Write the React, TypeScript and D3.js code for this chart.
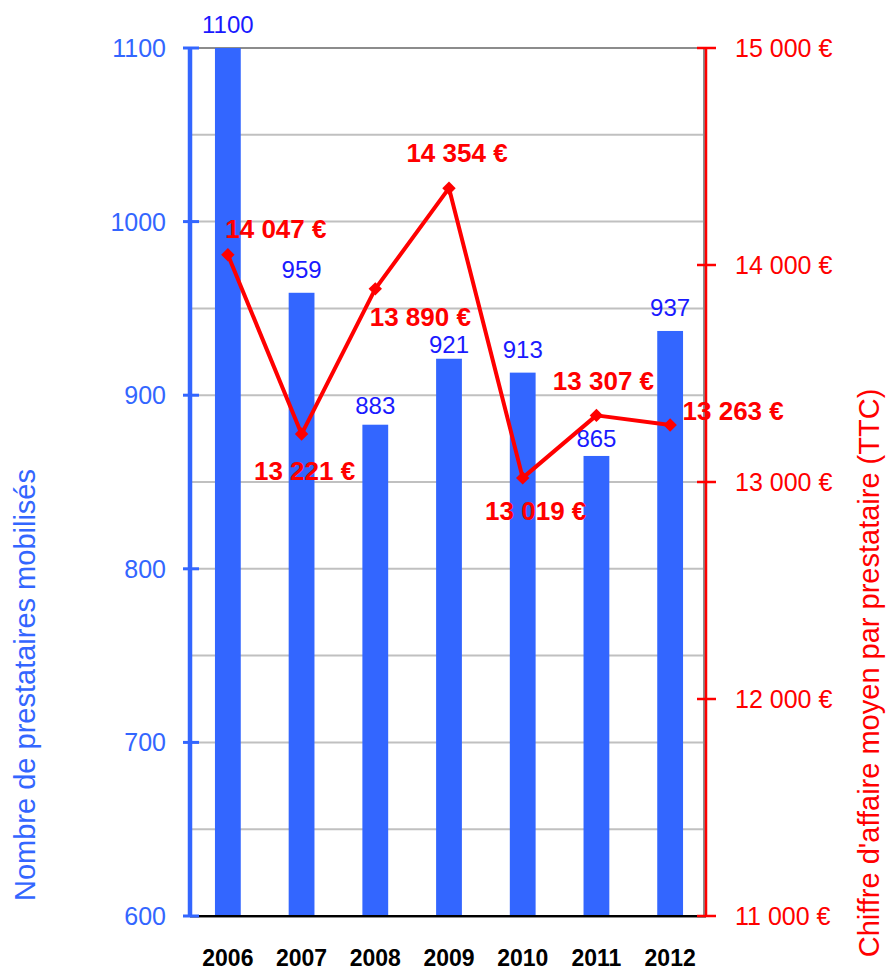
import React from "react";
import * as d3 from "d3";

const years = ["2006", "2007", "2008", "2009", "2010", "2011", "2012"];
const prestataires = [1100, 959, 883, 921, 913, 865, 937];
const chiffre = [14047, 13221, 13890, 14354, 13019, 13307, 13263];
const leftTicks = [600, 700, 800, 900, 1000, 1100];
const rightTicks = [11000, 12000, 13000, 14000, 15000];
const gridValues = [650, 700, 750, 800, 850, 900, 950, 1000, 1050];
const leftTitle = "Nombre de prestataires mobilisés";
const rightTitle = "Chiffre d'affaire moyen par prestataire  (TTC)";

// label placement for the line values (dx, dy relative to the marker)
const lineLabelOffsets = [
  [48, -17],
  [3, 46],
  [45, 37],
  [8, -26],
  [13, 42],
  [7, -25],
  [63, -5],
];
// extra vertical nudge for bar value labels
const barLabelNudge = [0, 0, 4, 9, 0, 6, 0];

const W = 888;
const H = 971;
const BLUE = "#3366ff";
const LABEL_BLUE = "#1a1aff";
const RED = "#ff0000";
const FONT = "'Liberation Sans', Arial, sans-serif";

const fmtEuro = (v: number) => {
  const s = d3.format(",")(v).replace(/,/g, " ");
  return `${s} €`;
};

export default function App() {
  const x = d3
    .scaleBand<string>()
    .domain(years)
    .range([191, 707])
    .paddingInner(0.65)
    .paddingOuter(0.325);
  const yL = d3.scaleLinear().domain([600, 1100]).range([916, 48]);
  const yR = d3.scaleLinear().domain([11000, 15000]).range([916, 48]);
  const xl = 190;
  const xr = 706;

  const line = d3
    .line<number>()
    .x((_, i) => (x(years[i]) as number) + x.bandwidth() / 2)
    .y((d) => yR(d));

  return (
    <div style={{ position: "absolute", left: 0, top: 0 }}>
      <svg width={W} height={H} style={{ display: "block", fontFamily: FONT }}>
        <rect width={W} height={H} fill="#fff" />
        {/* gridlines */}
        {gridValues.map((v) => (
          <line key={v} x1={xl} x2={xr} y1={yL(v)} y2={yL(v)} stroke="#c0c0c0" strokeWidth={2} />
        ))}
        <line x1={xl} x2={xr} y1={yL(1100)} y2={yL(1100)} stroke="#8c8c8c" strokeWidth={2} />
        <line x1={xr - 2} x2={xr - 2} y1={yL(1100)} y2={yL(600)} stroke="#8c8c8c" strokeWidth={2} />
        {/* bars */}
        {prestataires.map((v, i) => (
          <rect
            key={years[i]}
            x={x(years[i])}
            y={yL(v)}
            width={x.bandwidth()}
            height={yL(600) - yL(v)}
            fill={BLUE}
          />
        ))}
        {/* baseline */}
        <line x1={xl} x2={xr} y1={yL(600) + 1} y2={yL(600) + 1} stroke="#8c8c8c" strokeWidth={2} />
        <line x1={188} x2={xr} y1={yL(600)} y2={yL(600)} stroke="#000" strokeWidth={2} />
        {/* left axis */}
        <line x1={xl} x2={xl} y1={yL(1100)} y2={yL(600)} stroke={BLUE} strokeWidth={4.5} />
        {leftTicks.map((t) => (
          <g key={t}>
            <line x1={183} x2={199} y1={yL(t)} y2={yL(t)} stroke={BLUE} strokeWidth={3} />
            <text x={166} y={yL(t) + 9} textAnchor="end" fontSize={25} fill={BLUE}>
              {t}
            </text>
          </g>
        ))}
        {/* right axis */}
        <line x1={xr} x2={xr} y1={yR(15000)} y2={yR(11000)} stroke={RED} strokeWidth={2.5} />
        {rightTicks.map((t) => (
          <g key={t}>
            <line x1={697} x2={716} y1={yR(t)} y2={yR(t)} stroke={RED} strokeWidth={2.5} />
            <text x={735} y={yR(t) + 9} textAnchor="start" fontSize={25} fill={RED}>
              {fmtEuro(t)}
            </text>
          </g>
        ))}
        {/* bar labels */}
        {prestataires.map((v, i) => (
          <text
            key={"bl" + i}
            x={(x(years[i]) as number) + x.bandwidth() / 2}
            y={yL(v) - 15 + barLabelNudge[i]}
            textAnchor="middle"
            fontSize={24}
            fill={LABEL_BLUE}
          >
            {v}
          </text>
        ))}
        {/* line */}
        <path d={line(chiffre) || ""} fill="none" stroke={RED} strokeWidth={4} strokeLinejoin="round" />
        {chiffre.map((v, i) => {
          const cx = (x(years[i]) as number) + x.bandwidth() / 2;
          const cy = yR(v);
          return (
            <path
              key={"m" + i}
              d={d3.symbol().type(d3.symbolDiamond2).size(115)() || ""}
              transform={`translate(${cx},${cy})`}
              fill={RED}
            />
          );
        })}
        {chiffre.map((v, i) => {
          const cx = (x(years[i]) as number) + x.bandwidth() / 2;
          const cy = yR(v);
          const [dx, dy] = lineLabelOffsets[i];
          return (
            <text
              key={"ll" + i}
              x={cx + dx}
              y={cy + dy}
              textAnchor="middle"
              fontSize={26}
              fontWeight="bold"
              fill={RED}
            >
              {fmtEuro(v)}
            </text>
          );
        })}
        {/* x labels */}
        {years.map((yv) => (
          <text
            key={yv}
            x={(x(yv) as number) + x.bandwidth() / 2}
            y={966}
            textAnchor="middle"
            fontSize={23}
            fontWeight="bold"
            fill="#000"
          >
            {yv}
          </text>
        ))}
        {/* axis titles */}
        <text
          transform={`translate(35,685) rotate(-90)`}
          textAnchor="middle"
          fontSize={29}
          fill={BLUE}
        >
          {leftTitle}
        </text>
        <text
          transform={`translate(879,673) rotate(-90)`}
          textAnchor="middle"
          fontSize={29}
          fill={RED}
        >
          {rightTitle}
        </text>
      </svg>
    </div>
  );
}
